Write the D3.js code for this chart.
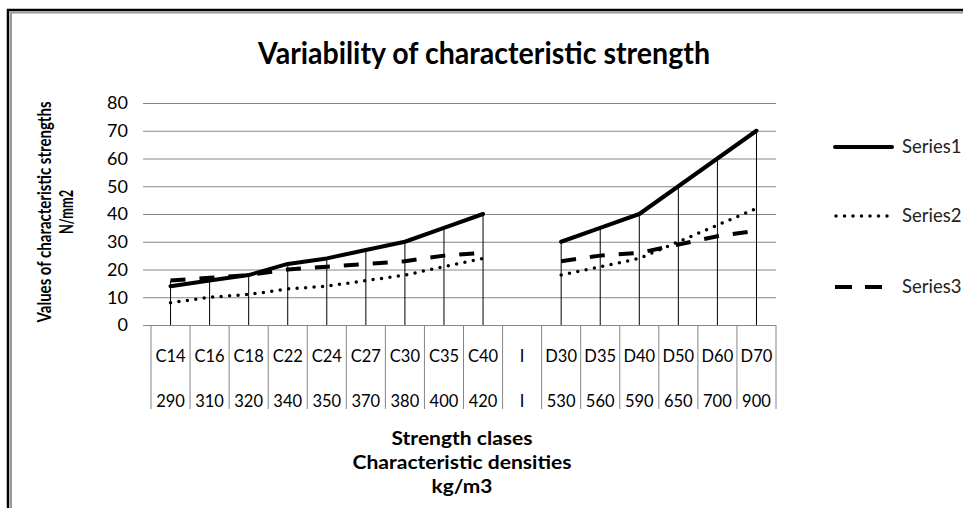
<!DOCTYPE html>
<html>
<head>
<meta charset="utf-8">
<script src="https://cdn.jsdelivr.net/npm/d3@7"></script>
<style>
  body { margin: 0; background: #fff; }
  svg { display: block; font-family: Lato, "Open Sans", sans-serif; }
</style>
</head>
<body>
<svg id="chart"></svg>
<script>
// two-level category axis (the "I" column is the empty gap)
var strengthClasses = ["C14", "C16", "C18", "C22", "C24", "C27", "C30", "C35", "C40", "I", "D30", "D35", "D40", "D50", "D60", "D70"];
var densities = ["290", "310", "320", "340", "350", "370", "380", "400", "420", "I", "530", "560", "590", "650", "700", "900"];
// characteristic strengths, N/mm2 (null = gap)
var series1 = [14, 16, 18, 22, 24, 27, 30, 35, 40, null, 30, 35, 40, 50, 60, 70];
var series2 = [8, 10, 11, 13, 14, 16, 18, 21, 24, null, 18, 21, 24, 30, 36, 42];
var series3 = [16, 17, 18, 20, 21, 22, 23, 25, 26, null, 23, 25, 26, 29, 32, 34];
var seriesNames = ["Series1", "Series2", "Series3"];
var yTicks = [0, 10, 20, 30, 40, 50, 60, 70, 80];

var svgWidth = 963;
var svgHeight = 508;
var svg = d3.select("svg#chart")
    .attr("width", svgWidth)
    .attr("height", svgHeight);

var plotLeft = 151, plotRight = 776, plotTop = 103, plotBottom = 325;

var x = d3.scaleBand().domain(strengthClasses).range([plotLeft, plotRight]);
var y = d3.scaleLinear().domain([0, 80]).range([plotBottom, plotTop]);

// squeeze a text to the width it has in the picture
function fitWidth(sel, w) {
    sel.each(function () {
        var len = this.getComputedTextLength();
        if (Math.abs(len - w) > 2) {
            d3.select(this).attr("textLength", w).attr("lengthAdjust", "spacingAndGlyphs");
        }
    });
}

// frame (black outer + gray inner)
svg.append("path").attr("d", "M8,508 V10 H963").attr("fill", "none").attr("stroke", "#000").attr("stroke-width", 2.5);
svg.append("path").attr("d", "M11,508 V12.5 H963").attr("fill", "none").attr("stroke", "#999").attr("stroke-width", 2);

// title
svg.append("text")
    .attr("x", 484).attr("y", 64)
    .attr("text-anchor", "middle")
    .attr("font-size", 30).attr("font-weight", "bold")
    .text("Variability of characteristic strength")
    .call(fitWidth, 452);

// gridlines
svg.append("g")
    .attr("transform", "translate(" + plotLeft + ",0)")
    .call(d3.axisLeft(y).tickValues(yTicks).tickSize(-(plotRight - plotLeft)).tickFormat(""))
    .call(function (g) { g.select(".domain").remove(); })
    .selectAll("line").attr("stroke", "#868686");

// y axis: outside ticks + labels
var yAxis = svg.append("g")
    .attr("transform", "translate(" + plotLeft + ",0)")
    .call(d3.axisLeft(y).tickValues(yTicks).tickSize(8).tickPadding(15));
yAxis.select(".domain").remove();
yAxis.selectAll("line").attr("stroke", "#868686");
yAxis.selectAll("text").attr("font-size", 18).attr("font-family", "Lato").attr("fill", "#000");

// category table borders below the axis
var bounds = strengthClasses.map(function (c) { return x(c); }).concat([plotRight]);
svg.selectAll("line.cell").data(bounds).enter()
    .append("line").attr("class", "cell")
    .attr("x1", function (d) { return d; }).attr("x2", function (d) { return d; })
    .attr("y1", plotBottom).attr("y2", 409)
    .attr("stroke", "#868686");

svg.selectAll("text.cls").data(strengthClasses).enter()
    .append("text").attr("class", "cls")
    .attr("x", function (d) { return x(d) + x.bandwidth() / 2; })
    .attr("y", 362)
    .attr("text-anchor", "middle").attr("font-size", 16.5)
    .text(function (d) { return d; });

svg.selectAll("text.dens").data(densities).enter()
    .append("text").attr("class", "dens")
    .attr("x", function (d, i) { return x(strengthClasses[i]) + x.bandwidth() / 2; })
    .attr("y", 407)
    .attr("text-anchor", "middle").attr("font-size", 16.5)
    .text(function (d) { return d; });

// drop lines from highest point to the axis
var columns = strengthClasses.map(function (c, i) {
    return { c: c, top: series1[i] == null ? null : Math.max(series1[i], series2[i], series3[i]) };
}).filter(function (d) { return d.top != null; });
svg.selectAll("line.drop").data(columns).enter()
    .append("line").attr("class", "drop")
    .attr("x1", function (d) { return x(d.c) + x.bandwidth() / 2; })
    .attr("x2", function (d) { return x(d.c) + x.bandwidth() / 2; })
    .attr("y1", function (d) { return y(d.top); })
    .attr("y2", y(0))
    .attr("stroke", "#000").attr("stroke-width", 1);

// series lines
var styles = [
    { width: 4, dash: null, cap: "round" },
    { width: 3.5, dash: "0,8.5", cap: "round" },
    { width: 4, dash: "15,14", cap: "butt" }
];
var allSeries = [series1, series2, series3];
var line = d3.line()
    .defined(function (d) { return d.v != null; })
    .x(function (d) { return x(d.c) + x.bandwidth() / 2; })
    .y(function (d) { return y(d.v); });

allSeries.forEach(function (s, k) {
    var pts = s.map(function (v, i) { return { c: strengthClasses[i], v: v }; });
    svg.append("path")
        .attr("d", line(pts))
        .attr("fill", "none")
        .attr("stroke", "#000")
        .attr("stroke-width", styles[k].width)
        .attr("stroke-linecap", styles[k].cap)
        .attr("stroke-linejoin", "round")
        .attr("stroke-dasharray", styles[k].dash);
});

// legend
var legendY = [147, 216, 287];
var legend = svg.selectAll("g.legend").data(seriesNames).enter()
    .append("g").attr("class", "legend")
    .attr("transform", function (d, i) { return "translate(835," + legendY[i] + ")"; });
legend.append("line")
    .attr("x1", function (d, i) { return i == 1 ? 1 : 0; }).attr("x2", function (d, i) { return i == 2 ? 47 : 57; })
    .attr("stroke", "#000")
    .attr("stroke-width", function (d, i) { return styles[i].width; })
    .attr("stroke-linecap", function (d, i) { return styles[i].cap; })
    .attr("stroke-dasharray", function (d, i) { return i == 2 ? "17,13" : styles[i].dash; });
legend.append("text")
    .attr("x", 67).attr("y", 6)
    .attr("font-size", 18.5).attr("fill", "#222")
    .text(function (d) { return d; });

// axis titles
var yTitle = ["Values of characteristic strengths", "N/mm2"];
var yTitleX = [51, 73];
var yTitleW = [221, 44];
yTitle.forEach(function (t, i) {
    svg.append("text")
        .attr("transform", "translate(" + yTitleX[i] + ",212) rotate(-90)")
        .attr("text-anchor", "middle")
        .attr("font-size", 19).attr("font-weight", "bold")
        .text(t)
        .call(fitWidth, yTitleW[i]);
});

var xTitle = ["Strength clases", "Characteristic densities", "kg/m3"];
var xTitleW = [141, 219, 61];
xTitle.forEach(function (t, i) {
    svg.append("text")
        .attr("x", 462).attr("y", 445 + i * 24)
        .attr("text-anchor", "middle")
        .attr("font-size", 18).attr("font-weight", "bold")
        .text(t)
        .call(fitWidth, xTitleW[i]);
});
</script>
</body>
</html>
